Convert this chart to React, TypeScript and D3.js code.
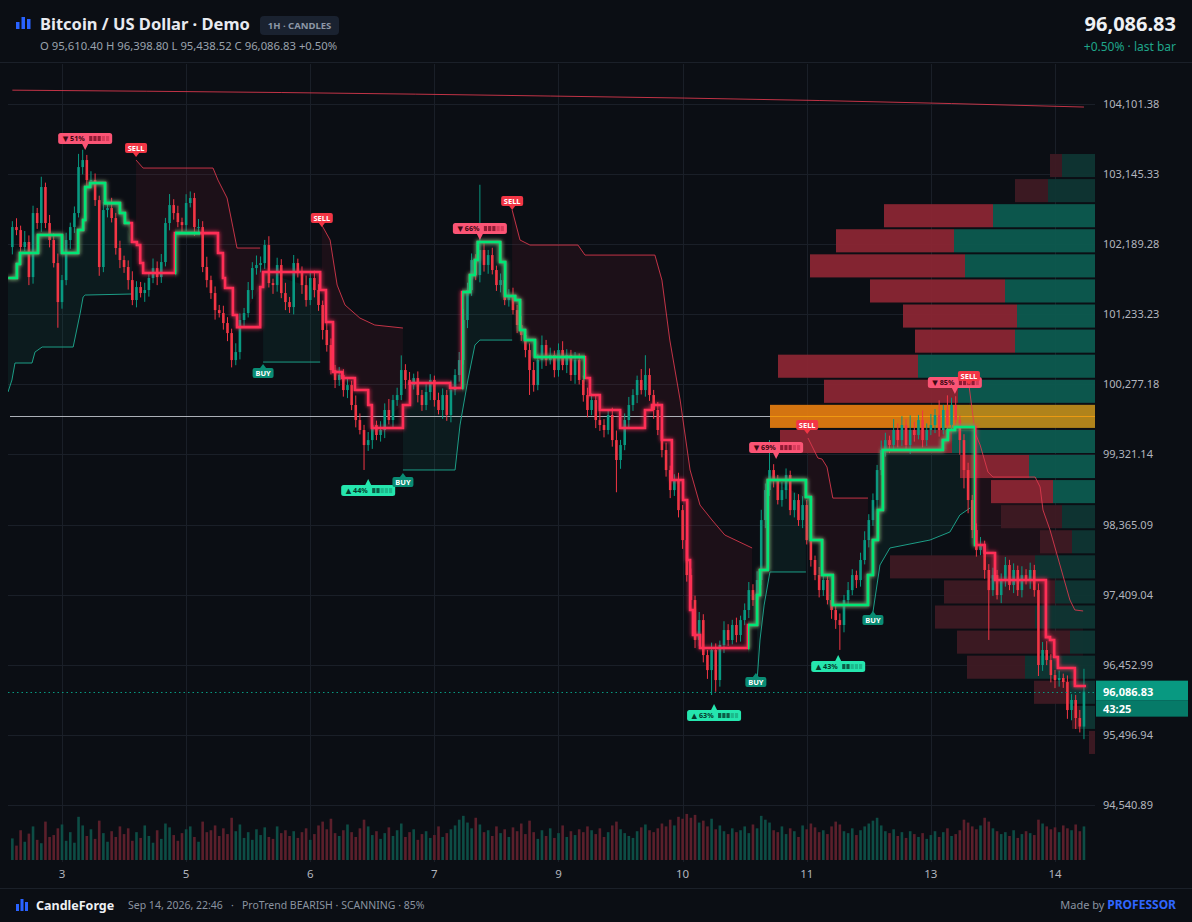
import React from 'react';
import * as d3 from 'd3';

// ---------------- DATA ----------------
const firstOpen = 102150;
const closes = [
  102423, 102382, 102151, 102219, 101741, 102614, 102478, 102969, 102478, 102246,
  101932, 101400, 101700, 102246, 102423, 102614, 103241, 103337, 103064, 103064,
  102791, 101878, 102655, 102682, 102546, 102137, 101973, 101878, 101700, 101428,
  101605, 101523, 101564, 101728, 101864, 101741, 101946, 102478, 102723, 102614,
  102491, 102450, 102751, 102819, 102423, 102423, 101878, 101700, 101523, 101291,
  101250, 101114, 100977, 100609, 100718, 101155, 101250, 101564, 101864, 101905,
  101932, 102178, 101659, 101632, 101905, 101523, 101400, 101332, 101932, 101796,
  101632, 101428, 101728, 101564, 101360, 101019, 100814, 100473, 100337, 100405,
  100200, 100268, 99996, 99791, 99655, 99450, 99518, 99723, 99587, 99655,
  99928, 99791, 100064, 100132, 100473, 100337, 100268, 100364, 100132, 99996,
  100173, 100337, 100064, 99928, 100132, 99860, 100200, 100405, 100609, 101155,
  101564, 101973, 101769, 102110, 101906, 102041, 101837, 101632, 101700, 101428,
  101496, 101291, 101087, 100950, 100746, 100473, 100268, 100609, 100814, 100609,
  100678, 100473, 100746, 100541, 100678, 100405, 100609, 100337, 100132, 99928,
  100064, 99791, 99723, 99655, 99860, 99518, 99246, 99450, 99791, 99996,
  100132, 100337, 100200, 100405, 100132, 99928, 99655, 99382, 99109, 98836,
  98972, 98563, 98154, 97677, 97336, 96791, 97063, 96586, 96381, 96655,
  96245, 96723, 96927, 96791, 96996, 96859, 97063, 97200, 97472, 97336,
  97609, 98427, 98836, 99109, 98972, 98700, 98836, 99041, 98563, 98700,
  98427, 98632, 98154, 97882, 97677, 97472, 97609, 97336, 97200, 97063,
  96996, 97336, 97472, 97677, 97609, 97882, 98154, 98427, 98700, 99109,
  99382, 99518, 99450, 99655, 99518, 99723, 99450, 99655, 99587, 99791,
  99518, 99655, 99723, 99860, 99655, 99928, 99723, 99996, 99791, 99518,
  99109, 98700, 98291, 98018, 98086, 97746, 97472, 97677, 97404, 97609,
  97814, 97541, 97746, 97472, 97677, 97609, 97746, 97472, 96450, 96655,
  96518, 96313, 96245, 96273, 96218, 95836, 95973, 95727, 95610.4, 96086.83,
];
const upWick = [
  80, 120, 60, 150, 90, 100, 70, 140, 60, 110,
  90, 130, 70, 100, 60, 90, 180, 140, 70, 120,
  90, 60, 110, 80, 140, 70, 100, 60, 90, 120,
  80, 70, 100, 60, 130, 90, 110, 70, 150, 80,
  100, 60, 120, 90, 70, 110, 80, 140, 60, 90,
  70, 100, 80, 60, 120, 90, 70, 110, 80, 130,
  90, 70, 120, 60, 100, 80, 140, 70, 110, 60,
  90, 130, 70, 100, 80, 60, 120, 90, 70, 110,
  80, 100, 60, 130, 90, 70, 110, 80, 60, 120,
  90, 150, 70, 100, 200, 80, 110, 60, 90, 70,
  120, 80, 60, 100, 90, 70, 130, 80, 110, 150,
  100, 90, 80, 890, 120, 70, 100, 60, 90, 110,
  80, 100, 70, 120, 60, 90, 110, 80, 130, 70,
  100, 60, 90, 120, 80, 70, 110, 90, 60, 100,
  90, 70, 120, 80, 60, 100, 130, 70, 90, 110,
  80, 60, 150, 270, 90, 70, 110, 80, 100, 60,
  80, 100, 70, 120, 90, 60, 110, 80, 70, 100,
  90, 60, 120, 80, 70, 100, 60, 90, 110, 80,
  120, 140, 90, 410, 80, 70, 110, 90, 60, 100,
  80, 120, 70, 90, 60, 110, 80, 70, 100, 60,
  90, 70, 110, 80, 60, 100, 120, 80, 90, 70,
  130, 100, 60, 150, 90, 120, 80, 200, 110, 70,
  130, 90, 150, 80, 200, 70, 200, 100, 120, 60,
  80, 100, 70, 90, 110, 60, 80, 100, 70, 90,
  110, 70, 90, 60, 120, 80, 100, 70, 90, 110,
  120, 80, 70, 100, 60, 90, 80, 70, 110, 311.97,
];
const dnWick = [
  100, 70, 130, 60, 110, 90, 80, 120, 70, 100,
  60, 350, 90, 70, 120, 80, 60, 100, 90, 70,
  80, 120, 70, 100, 60, 90, 110, 80, 130, 70,
  100, 60, 120, 90, 70, 110, 80, 60, 100, 90,
  70, 110, 80, 60, 120, 90, 70, 100, 80, 130,
  60, 90, 110, 100, 70, 100, 80, 60, 120, 90,
  100, 80, 60, 120, 90, 70, 110, 80, 100, 60,
  120, 90, 70, 100, 80, 130, 90, 60, 110, 80,
  90, 110, 70, 100, 60, 340, 80, 120, 70, 90,
  110, 60, 100, 80, 70, 120, 90, 60, 100, 80,
  70, 110, 90, 60, 120, 80, 100, 70, 90, 60,
  110, 80, 70, 100, 90, 120, 60, 80, 100, 70,
  90, 60, 110, 80, 100, 340, 90, 70, 120, 80,
  60, 100, 90, 70, 110, 80, 120, 60, 90, 100,
  70, 110, 80, 100, 60, 90, 440, 120, 70, 100,
  80, 110, 60, 90, 80, 120, 70, 100, 90, 110,
  80, 100, 120, 90, 150, 110, 80, 100, 120, 340,
  160, 90, 110, 80, 60, 100, 90, 70, 110, 80,
  90, 70, 110, 80, 100, 60, 90, 120, 70, 100,
  80, 110, 60, 90, 70, 100, 80, 60, 120, 120,
  340, 100, 80, 70, 110, 90, 60, 100, 80, 120,
  70, 90, 110, 60, 100, 80, 70, 120, 90, 60,
  100, 80, 70, 110, 90, 60, 120, 80, 100, 200,
  250, 180, 110, 90, 70, 120, 680, 80, 60, 110,
  90, 70, 110, 80, 100, 60, 120, 90, 150, 80,
  70, 100, 110, 90, 80, 120, 140, 150, 80, 171.88,
];
const volumes = [
  45, 30, 62, 38, 55, 70, 42, 35, 80, 48, 52, 66, 74, 40, 58, 36, 90, 72, 50, 64,
  44, 82, 56, 38, 60, 48, 70, 54, 66, 40, 58, 46, 72, 50, 36, 62, 44, 76, 68, 52,
  40, 56, 64, 70, 48, 38, 80, 58, 62, 72, 50, 66, 54, 88, 60, 74, 46, 58, 42, 64,
  52, 68, 48, 44, 70, 56, 62, 50, 60, 46, 58, 66, 42, 54, 72, 80, 64, 86, 56, 50,
  62, 74, 58, 48, 66, 84, 70, 52, 60, 44, 56, 68, 50, 62, 76, 48, 58, 64, 42, 54,
  60, 46, 52, 70, 48, 56, 64, 72, 84, 92, 78, 66, 88, 74, 58, 62, 50, 70, 56, 64,
  48, 68, 60, 76, 54, 82, 58, 44, 62, 50, 66, 46, 56, 72, 48, 60, 52, 64, 58, 70,
  62, 54, 66, 48, 58, 72, 80, 64, 56, 50, 46, 60, 68, 74, 62, 58, 66, 76, 70, 84,
  72, 90, 86, 96, 88, 94, 78, 82, 70, 86, 64, 72, 60, 54, 66, 58, 62, 70, 56, 74,
  66, 92, 84, 78, 62, 58, 70, 54, 66, 60, 48, 72, 64, 76, 68, 58, 62, 54, 70, 80,
  74, 60, 56, 66, 52, 62, 70, 76, 82, 88, 72, 60, 56, 64, 50, 58, 46, 60, 54, 48,
  56, 44, 52, 60, 48, 58, 66, 50, 54, 62, 84, 78, 70, 64, 72, 88, 80, 66, 60, 54,
  58, 50, 62, 46, 54, 60, 56, 52, 84, 76, 70, 64, 68, 58, 72, 66, 62, 74, 60, 70,
];

const priceTicks = [104101.38, 103145.33, 102189.28, 101233.23, 100277.18, 99321.14, 98365.09, 97409.04, 96452.99, 95496.94, 94540.89];
const dayTickBars = [12, 42, 72, 102, 132, 162, 192, 222, 252];
const dayTickLabels = ['3', '5', '6', '7', '9', '10', '11', '13', '14'];

// ProTrend step line: [bar, level]
const trendSteps: [number, number][] = [
  [-1, 101728], [1.1, 101919], [1.85, 102069], [6.2, 102314], [12, 102069], [15.9, 102382], [17.1, 102519],
  [17.6, 102969], [18.8, 103023], [22.4, 102750], [26, 102614], [27.2, 102478], [28.9, 102219], [30.1, 102178],
  [30.9, 101932], [31.6, 101796], [39.3, 102341], [49.7, 102069], [50.9, 101728], [51.4, 101591], [53.3, 101223],
  [54.3, 101059], [59.9, 101605], [60.6, 101810], [74.4, 101564], [75.8, 101128], [77.5, 100446], [79.7, 100364],
  [82.8, 100200], [86, 99996], [86.9, 99682], [94.4, 99996], [96.1, 100296], [105.8, 100228], [108.7, 101537],
  [110.6, 101769], [111.8, 101973], [112.5, 102219], [117.9, 101946], [119.1, 101483], [121.5, 101428],
  [122.7, 101019], [123.9, 100882], [126.3, 100650], [138.4, 100364], [139.6, 100132], [142, 99928],
  [146.9, 99682], [152.9, 99928], [154.6, 99996], [157, 99518], [159.4, 98973], [162.1, 98700], [163.1, 97882],
  [163.8, 97201], [164.5, 96859], [166.2, 96682], [177.8, 96996], [180, 97404], [180.7, 97746], [182.6, 98973],
  [191.8, 98741], [193, 98155], [195.7, 97677], [198.3, 97268], [206.8, 97677], [208, 98155], [209.2, 98564],
  [210.4, 99382], [224.9, 99518], [226.1, 99655], [227.8, 99696], [232.7, 98087], [235, 97978], [237.5, 97610],
  [249.8, 96831], [250.8, 96791], [251.8, 96559], [252.7, 96409], [256.8, 96164],
];
const trendEndBar = 259.5;
const greenRanges: [number, number][] = [[-2, 28.4], [39.3, 45.4], [108.7, 138.4], [177.8, 232.7]];

// trailing bands
const trailBull1: [number, number][] = [[-1.05, 100173], [-0.1, 100337], [0.64, 100569], [4.75, 100569], [5.47, 100718], [7.2, 100787], [14.7, 100787], [16.4, 101250], [17.1, 101469], [17.6, 101496], [28.9, 101510]];
const trailBear1: [number, number][] = [[29.9, 103337], [31.6, 103228], [48.5, 103228], [49.7, 103064], [51.9, 102819], [53.3, 102423], [54.3, 102137], [59.9, 102137]];
const trailBull2: [number, number][] = [[60.6, 100582], [74.4, 100582]];
const trailBear2: [number, number][] = [[74.8, 102450], [76.8, 102246], [78.5, 101632], [80.4, 101360], [84, 101182], [87.6, 101087], [94.4, 101046]];
const trailBull3: [number, number][] = [[94.4, 99110], [107, 99110], [108.2, 99723], [110.1, 100337], [111.8, 100814], [113, 100882], [120.8, 100882]];
const trailBear3: [number, number][] = [[120.8, 102655], [122.7, 102246], [125.1, 102178], [136.7, 102178], [138.4, 102041], [155.3, 102041], [157, 101700], [158.9, 100882], [161.4, 100064], [163.8, 99110], [166.2, 98632], [169.1, 98428], [172.2, 98223], [178.8, 98046]];
const trailBull4: [number, number][] = [[180, 96245], [180.7, 96791], [181.7, 97268], [183.1, 97719], [191.8, 97719]];
const trailBear4: [number, number][] = [[192.3, 99546], [194.7, 99273], [195.7, 99259], [196.9, 99150], [198.3, 98727], [206.8, 98727]];
const trailBull5: [number, number][] = [[208, 97173], [209.7, 97814], [212.1, 98046], [221.8, 98155], [226.6, 98264], [229, 98496], [231.5, 98592]];
const trailBear5: [number, number][] = [[231.2, 100269], [232.7, 99614], [233.9, 99451], [235.8, 99082], [237, 99014], [247.2, 99014], [248.4, 98878], [249.1, 98564], [250.8, 98291], [253.2, 97814], [255.6, 97337], [256.8, 97201], [258.8, 97187]];
const bullTrails = [trailBull1, trailBull2, trailBull3, trailBull4, trailBull5];
const bearTrails = [trailBear1, trailBear2, trailBear3, trailBear4, trailBear5];

// long moving average
const maBars = [0, 65, 130, 195, 259];
const maValues = [104290, 104258, 104210, 104149, 104060];

// volume profile (top row first)
const profileTop = 103433;
const profileBottom = 95223;
const profileTotal = [45, 80, 211, 259, 285, 225, 192, 180, 317, 271, 325, 315, 135, 104, 94, 55, 205, 151, 160, 138, 128, 61, 23, 6];
const profileBuy = [33, 47, 102, 141, 130, 90, 78, 80, 177, 137, 140, 143, 66, 42, 33, 23, 60, 40, 60, 25, 70, 25, 15, 0];
const valueAreaFirst = 2;
const valueAreaLast = 13;

// signals
const signalBars = [17.6, 29.9, 74.8, 113, 120.8, 60.6, 86, 94.4, 169.6, 179.7, 184.6, 192.1, 199.6, 208, 227.8, 231.2];
const signalPrices = [103474, 103378, 102423, 102246, 102655, 100555, 98986, 99068, 95918, 96341, 99259, 99600, 96586, 97186, 100145, 100269];
const signalKinds = ['dn', 'sell', 'sell', 'dn', 'sell', 'buy', 'up', 'buy', 'up', 'buy', 'dn', 'sell', 'up', 'buy', 'dn', 'sell'];
const signalPct = [51, 0, 0, 66, 0, 0, 44, 0, 63, 0, 69, 0, 43, 0, 85, 0];

const lastPrice = 96086.83;
const countdown = '43:25';

// ---------------- LAYOUT ----------------
const FONT = "'Noto Sans', 'DejaVu Sans', sans-serif";
const BG = '#0b0e14';
const UP = '#089981';
const DN = '#f23645';
const PLOT_L = 8;
const PLOT_R = 1095;

const xS = d3.scaleLinear().domain([0, 259]).range([12.35, 1083.96]);
const yS = d3.scaleLinear().domain([94540.89, 104101.38]).range([805, 104]);
const vS = d3.scaleLinear().domain([0, 100]).range([860, 812]);

function stepVal(b: number) {
  let v = trendSteps[0][1];
  for (const [sb, sp] of trendSteps) {
    if (sb <= b) v = sp; else break;
  }
  return v;
}
function stepCorners(a: number, b: number): [number, number][] {
  const pts: [number, number][] = [[a, stepVal(a)]];
  for (const [sb, sp] of trendSteps) {
    if (sb > a && sb < b) {
      pts.push([sb, stepVal(sb - 1e-6)]);
      pts.push([sb, sp]);
    }
  }
  pts.push([b, stepVal(b)]);
  return pts;
}

const fmt = d3.format(',.2f');

function Pill({ x, y, kind, pct }: { x: number; y: number; kind: string; pct: number }) {
  const w = 54, h = 11;
  const isUp = kind === 'up';
  const bg = isUp ? '#25e6ae' : '#fb5475';
  const tc = isUp ? '#053a2c' : '#3d0812';
  const dark = isUp ? '#0b5c46' : '#8e1b33';
  const light = isUp ? '#1cb98c' : '#d83c5b';
  const ry = isUp ? y + 6 : y - 6 - h;
  const left = x - w / 2;
  const tri = isUp ? `M${x - 3},${y + 6}L${x + 3},${y + 6}L${x},${y}Z` : `M${x - 3},${y - 6}L${x + 3},${y - 6}L${x},${y}Z`;
  const filled = Math.round(pct / 20);
  return (
    <g>
      <rect x={left} y={ry} width={w} height={h} rx={2.5} fill={bg} />
      <path d={tri} fill={bg} />
      <text x={left + 4.5} y={ry + 8.2} fontSize={7.2} fontWeight={700} fill={tc} fontFamily={FONT}>
        {(isUp ? '▲ ' : '▼ ') + pct + '%'}
      </text>
      {[0, 1, 2, 3, 4].map((k) => (
        <rect key={k} x={left + 31 + k * 4.2} y={ry + 3} width={3.2} height={5} fill={k < filled ? dark : light} />
      ))}
    </g>
  );
}

function Tag({ x, y, kind }: { x: number; y: number; kind: string }) {
  const isBuy = kind === 'buy';
  const w = isBuy ? 21 : 22, h = 10;
  const bg = isBuy ? '#0a8c74' : '#f23645';
  const ry = isBuy ? y + 4 : y - 4 - h;
  const tri = isBuy ? `M${x - 3},${y + 4}L${x + 3},${y + 4}L${x},${y}Z` : `M${x - 3},${y - 4}L${x + 3},${y - 4}L${x},${y}Z`;
  return (
    <g>
      <rect x={x - w / 2} y={ry} width={w} height={h} rx={2} fill={bg} />
      <path d={tri} fill={bg} />
      <text x={x} y={ry + 7.8} fontSize={7.5} fontWeight={700} fill="#ffffff" textAnchor="middle" fontFamily={FONT}>
        {isBuy ? 'BUY' : 'SELL'}
      </text>
    </g>
  );
}

export default function App() {
  const candles = closes.map((c, i) => {
    const o = i === 0 ? firstOpen : closes[i - 1];
    return { i, o, c, h: Math.max(o, c) + upWick[i], l: Math.min(o, c) - dnWick[i], v: volumes[i] };
  });

  const lineGen = d3.line<[number, number]>().x((d) => xS(d[0])).y((d) => yS(d[1]));
  const stepGen = d3.line<[number, number]>().x((d) => xS(d[0])).y((d) => yS(d[1])).curve(d3.curveStepAfter);
  const stepPts: [number, number][] = [...trendSteps, [trendEndBar, trendSteps[trendSteps.length - 1][1]]];
  const stepPath = stepGen(stepPts) || '';
  const maPath = d3.line<number>().x((_, k) => xS(maBars[k])).y((d) => yS(d)).curve(d3.curveMonotoneX)(maValues) || '';

  const fillPath = (trail: [number, number][]) => {
    const a = trail[0][0], b = trail[trail.length - 1][0];
    const back = stepCorners(a, b).reverse();
    const pts = [...trail, ...back];
    return (lineGen(pts) || '') + 'Z';
  };

  const rowH = (yS(profileBottom) - yS(profileTop)) / profileTotal.length;
  const pw = d3.scaleLinear().domain([0, d3.max(profileTotal) as number]).range([0, PLOT_R - 770]);
  const pocIdx = profileTotal.indexOf(d3.max(profileTotal) as number);
  const pocY = yS(profileTop) + (pocIdx + 0.5) * rowH;
  const pocLeft = PLOT_R - pw(profileTotal[pocIdx]);

  const bw = 2.6;
  const lastY = yS(lastPrice);

  return (
    <svg width={1192} height={922} style={{ position: 'absolute', left: 0, top: 0, display: 'block' }} fontFamily={FONT}>
      <defs>
        <filter id="glow" filterUnits="userSpaceOnUse" x={0} y={0} width={1192} height={922}>
          <feGaussianBlur stdDeviation={2.2} result="b" />
          <feMerge>
            <feMergeNode in="b" />
            <feMergeNode in="SourceGraphic" />
          </feMerge>
        </filter>
        <clipPath id="greenClip">
          {greenRanges.map(([a, b], k) => (
            <rect key={k} x={xS(a)} y={0} width={xS(b) - xS(a)} height={922} />
          ))}
        </clipPath>
        <clipPath id="plotClip">
          <rect x={PLOT_L} y={64} width={PLOT_R - PLOT_L} height={800} />
        </clipPath>
      </defs>
      <rect x={0} y={0} width={1192} height={922} fill={BG} />

      {/* header */}
      <rect x={16} y={22} width={3.5} height={7} fill="#2962ff" />
      <rect x={21.5} y={17} width={3.5} height={12} fill="#2962ff" />
      <rect x={27} y={19} width={3.5} height={10} fill="#2962ff" />
      <text x={40} y={30} fontSize={16.5} fontWeight={700} fill="#e8eaf0">Bitcoin / US Dollar · Demo</text>
      <rect x={260} y={16} width={79} height={19} rx={4} fill="#1a2230" />
      <text x={299.5} y={29} fontSize={9.5} fontWeight={700} fill="#8d97a6" textAnchor="middle">1H · CANDLES</text>
      <text x={40} y={50} fontSize={11.3} fill="#9aa2ad">O 95,610.40 H 96,398.80 L 95,438.52 C 96,086.83 +0.50%</text>
      <text x={1176} y={31} fontSize={20} fontWeight={700} fill="#eef0f4" textAnchor="end">{fmt(lastPrice)}</text>
      <text x={1176} y={51} fontSize={12} fill="#1fa58a" textAnchor="end">+0.50% · last bar</text>
      <line x1={0} x2={1192} y1={62.5} y2={62.5} stroke="#1b2029" />

      {/* grid */}
      {priceTicks.map((p, k) => (
        <line key={k} x1={PLOT_L} x2={PLOT_R} y1={Math.round(yS(p)) + 0.5} y2={Math.round(yS(p)) + 0.5} stroke="#1a1f28" />
      ))}
      {dayTickBars.map((b, k) => (
        <line key={k} x1={Math.round(xS(b)) + 0.5} x2={Math.round(xS(b)) + 0.5} y1={64} y2={862} stroke="#1a1f28" />
      ))}

      <g clipPath="url(#plotClip)">
        {/* trend fills */}
        {bullTrails.map((t, k) => (
          <path key={'bf' + k} d={fillPath(t)} fill="#15a38a" fillOpacity={0.09} />
        ))}
        {bearTrails.map((t, k) => (
          <path key={'rf' + k} d={fillPath(t)} fill="#e8344f" fillOpacity={0.08} />
        ))}

        {/* volume profile */}
        {profileTotal.map((tot, k) => {
          const y0 = yS(profileTop) + k * rowH + 1;
          const hh = rowH - 2;
          const inVA = k >= valueAreaFirst && k <= valueAreaLast;
          const isPoc = k === pocIdx;
          const sellC = isPoc ? '#df7a10' : inVA ? '#8a2633' : '#3e1a23';
          const buyC = isPoc ? '#b98a1b' : inVA ? '#0d5b4f' : '#0f3633';
          const xl = PLOT_R - pw(tot);
          const xm = PLOT_R - pw(profileBuy[k]);
          return (
            <g key={'p' + k}>
              <rect x={xl} y={y0} width={xm - xl} height={hh} fill={sellC} fillOpacity={0.95} />
              <rect x={xm} y={y0} width={PLOT_R - xm} height={hh} fill={buyC} fillOpacity={0.95} />
            </g>
          );
        })}

        {/* POC line */}
        <line x1={10} x2={pocLeft} y1={Math.round(pocY) + 0.5} y2={Math.round(pocY) + 0.5} stroke="#c9ccd4" strokeOpacity={0.85} />
        <line x1={pocLeft} x2={PLOT_R} y1={Math.round(pocY) + 0.5} y2={Math.round(pocY) + 0.5} stroke="#f39c12" strokeOpacity={0.9} />

        {/* moving average */}
        <path d={maPath} fill="none" stroke="#e0394f" strokeWidth={1} strokeOpacity={0.85} />

        {/* trail lines */}
        {bullTrails.map((t, k) => (
          <path key={'bl' + k} d={lineGen(t) || ''} fill="none" stroke="#1c9d86" strokeWidth={1} />
        ))}
        {bearTrails.map((t, k) => (
          <path key={'rl' + k} d={lineGen(t) || ''} fill="none" stroke="#e0394f" strokeWidth={1} strokeOpacity={0.85} />
        ))}

        {/* volume */}
        {candles.map((d) => (
          <rect key={'v' + d.i} x={xS(d.i) - bw / 2} y={vS(d.v)} width={bw} height={860 - vS(d.v)} fill={d.c >= d.o ? '#0d4d45' : '#5b1f2b'} />
        ))}

        {/* candles */}
        {candles.map((d) => {
          const up = d.c >= d.o;
          const col = up ? UP : DN;
          const yt = yS(Math.max(d.o, d.c));
          const yb = yS(Math.min(d.o, d.c));
          return (
            <g key={'c' + d.i}>
              <line x1={xS(d.i)} x2={xS(d.i)} y1={yS(d.h)} y2={yS(d.l)} stroke={col} strokeWidth={1} />
              <rect x={xS(d.i) - bw / 2} y={yt} width={bw} height={Math.max(1, yb - yt)} fill={col} />
            </g>
          );
        })}

        {/* trend step line */}
        <path d={stepPath} fill="none" stroke="#ff2e57" strokeWidth={2.6} filter="url(#glow)" />
        <path d={stepPath} fill="none" stroke="#00e676" strokeWidth={2.6} filter="url(#glow)" clipPath="url(#greenClip)" />

        {/* last price line */}
        <line x1={PLOT_L} x2={PLOT_R} y1={Math.round(lastY) + 0.5} y2={Math.round(lastY) + 0.5} stroke="#089981" strokeDasharray="1.5 3" />
      </g>

      {/* signals */}
      {signalBars.map((b, k) => {
        const x = xS(b);
        const y = yS(signalPrices[k]);
        const kind = signalKinds[k];
        if (kind === 'up' || kind === 'dn') return <Pill key={'s' + k} x={x} y={y} kind={kind} pct={signalPct[k]} />;
        return <Tag key={'s' + k} x={x} y={y} kind={kind} />;
      })}

      {/* price axis */}
      {priceTicks.map((p, k) => (
        <text key={k} x={1103} y={yS(p) + 4} fontSize={11} fill="#b2b5be">{fmt(p)}</text>
      ))}
      <rect x={1096} y={lastY - 11} width={92} height={20} fill="#089981" />
      <rect x={1096} y={lastY + 9} width={92} height={16} fill="#067a68" />
      <text x={1103} y={lastY + 4} fontSize={11} fontWeight={700} fill="#ffffff">{fmt(lastPrice)}</text>
      <text x={1103} y={lastY + 21} fontSize={11} fontWeight={700} fill="#ffffff">{countdown}</text>

      {/* time axis */}
      {dayTickBars.map((b, k) => (
        <text key={k} x={xS(b)} y={878} fontSize={11.5} fill="#b2b5be" textAnchor="middle">{dayTickLabels[k]}</text>
      ))}

      {/* footer */}
      <line x1={0} x2={1192} y1={888.5} y2={888.5} stroke="#1b2029" />
      <rect x={16} y={904} width={3} height={7} fill="#2962ff" />
      <rect x={20.5} y={899} width={3} height={12} fill="#2962ff" />
      <rect x={25} y={902} width={3} height={9} fill="#2962ff" />
      <text x={36} y={910} fontSize={12.5} fontWeight={700} fill="#eef0f4">CandleForge</text>
      <text x={128} y={909} fontSize={10.5} fill="#8a93a0">Sep 14, 2026, 22:46</text>
      <text x={231} y={909} fontSize={10.5} fill="#8a93a0">·</text>
      <text x={242} y={909} fontSize={10.5} fill="#8a93a0">ProTrend BEARISH · SCANNING · 85%</text>
      <text x={1176} y={909} fontSize={11} textAnchor="end">
        <tspan fill="#8a93a0">Made by </tspan>
        <tspan fill="#2f66ff" fontWeight={700} fontSize={12}>PROFESSOR</tspan>
      </text>
    </svg>
  );
}
